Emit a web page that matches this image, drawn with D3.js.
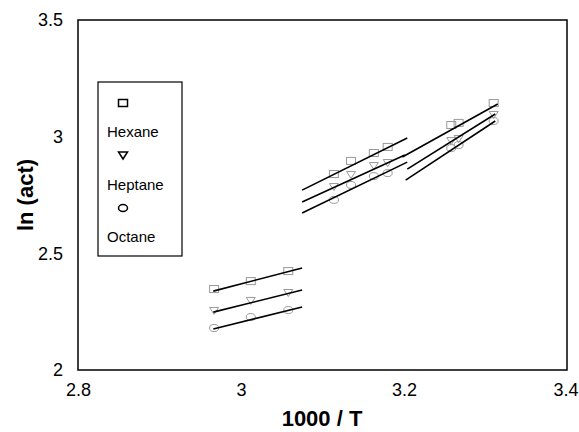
<!DOCTYPE html>
<html lang="en">
	<head>
		<meta charset="utf-8">
		<title>ln(act) vs 1000/T</title>
		<script src="https://d3js.org/d3.v7.min.js"></script>
		<style>
			body{ margin: 0; background: #fff; }
			text{ font-family: 'Liberation Sans', Arial, sans-serif; }
		</style>
	</head>
	<body>
		<script>
			var w = 579;
			var h = 432;

			//series names
			var names = ["Hexane", "Heptane", "Octane"];

			//x values (1000/T) for the measured points
			var xVals = [2.967, 3.012, 3.058, 3.114, 3.135, 3.163, 3.180, 3.258, 3.267, 3.310];

			//ln(act) per solvent, same order as xVals
			var hexane  = [2.347, 2.381, 2.424, 2.840, 2.896, 2.930, 2.956, 3.050, 3.059, 3.144];
			var heptane = [2.253, 2.296, 2.330, 2.784, 2.836, 2.874, 2.887, 2.981, 2.990, 3.093];
			var octane  = [2.180, 2.227, 2.257, 2.729, 2.793, 2.831, 2.844, 2.951, 2.964, 3.067];

			//fitted lines, [x1, y1, x2, y2] for each temperature range
			var hexaneFit  = [[2.966, 2.338, 3.075, 2.437], [3.075, 2.771, 3.204, 2.994], [3.198, 2.913, 3.315, 3.140]];
			var heptaneFit = [[2.966, 2.248, 3.075, 2.343], [3.075, 2.720, 3.201, 2.921], [3.204, 2.861, 3.312, 3.097]];
			var octaneFit  = [[2.966, 2.176, 3.075, 2.270], [3.075, 2.673, 3.204, 2.891], [3.202, 2.814, 3.312, 3.067]];

			//tick labels
			var xTicks = [2.8, 3, 3.2, 3.4];
			var yTicks = [2, 2.5, 3, 3.5];

			var series = [hexane, heptane, octane];
			var fits = [hexaneFit, heptaneFit, octaneFit];
			var shapes = ["square", "triangle", "circle"];

			var pLeft = 78, pRight = 567, pTop = 20, pBottom = 370;

			var xScale = d3.scaleLinear().domain([2.8, 3.4]).range([pLeft, pRight]);
			var yScale = d3.scaleLinear().domain([2, 3.5]).range([pBottom, pTop]);

			var svg = d3.select("body")
						.append("svg")
						.attr("width", w)
						.attr("height", h);

			//draw a marker at px, py
			function marker(g, shape, px, py, color, sw) {
				if (shape == "square") {
					g.append("rect")
						.attr("x", px - 4.5).attr("y", py - 3.5)
						.attr("width", 9).attr("height", 7)
						.attr("fill", "none").attr("stroke", color).attr("stroke-width", sw);
				} else if (shape == "triangle") {
					g.append("path")
						.attr("d", "M" + (px - 4.5) + "," + (py - 3.5) + "L" + (px + 4.5) + "," + (py - 3.5) + "L" + px + "," + (py + 3.5) + "Z")
						.attr("fill", "none").attr("stroke", color).attr("stroke-width", sw);
				} else {
					g.append("ellipse")
						.attr("cx", px).attr("cy", py)
						.attr("rx", 4.5).attr("ry", 3.5)
						.attr("fill", "none").attr("stroke", color).attr("stroke-width", sw);
				}
			}

			//markers
			var pts = svg.append("g");
			series.forEach(function(s, i) {
				s.forEach(function(v, j) {
					marker(pts, shapes[i], xScale(xVals[j]), yScale(v), "#999", 1);
				});
			});

			//fit lines
			var lines = svg.append("g");
			fits.forEach(function(f) {
				lines.selectAll(null)
					.data(f)
					.enter()
					.append("line")
					.attr("x1", function(d) { return xScale(d[0]); })
					.attr("y1", function(d) { return yScale(d[1]); })
					.attr("x2", function(d) { return xScale(d[2]); })
					.attr("y2", function(d) { return yScale(d[3]); })
					.attr("stroke", "#000")
					.attr("stroke-width", 1.6);
			});

			//plot frame
			svg.append("rect")
				.attr("x", pLeft).attr("y", pTop)
				.attr("width", pRight - pLeft).attr("height", pBottom - pTop)
				.attr("fill", "none").attr("stroke", "#000").attr("stroke-width", 1.5);

			//axes, labels only
			var xAxis = d3.axisBottom(xScale).tickValues(xTicks).tickSize(0).tickPadding(13)
							.tickFormat(function(d) { return d3.format("~g")(d); });
			var yAxis = d3.axisLeft(yScale).tickValues(yTicks).tickSize(0).tickPadding(15)
							.tickFormat(function(d) { return d3.format("~g")(d); });

			var gx = svg.append("g")
				.attr("transform", "translate(0," + pBottom + ")")
				.call(xAxis);
			var gy = svg.append("g")
				.attr("transform", "translate(" + pLeft + ",0)")
				.call(yAxis);
			[gx, gy].forEach(function(g) {
				g.select(".domain").remove();
				g.selectAll("text")
					.attr("font-family", "'Liberation Sans', Arial, sans-serif")
					.attr("font-size", "18px")
					.attr("fill", "#000");
			});
			//keep the last x label inside the window
			gx.selectAll(".tick text").filter(function(d) { return d == 3.4; })
				.attr("text-anchor", "end").attr("x", 11);

			//axis titles
			svg.append("text")
				.attr("x", 322).attr("y", 426)
				.attr("text-anchor", "middle")
				.attr("font-size", "22px").attr("font-weight", "bold")
				.text("1000 / T");
			svg.append("text")
				.attr("transform", "translate(33,195) rotate(-90)")
				.attr("text-anchor", "middle")
				.attr("font-size", "22px").attr("font-weight", "bold")
				.text("ln (act)");

			//legend
			var lg = svg.append("g");
			lg.append("rect")
				.attr("x", 98).attr("y", 82)
				.attr("width", 84).attr("height", 174)
				.attr("fill", "#fff").attr("stroke", "#000").attr("stroke-width", 1.2);
			names.forEach(function(n, i) {
				marker(lg, shapes[i], 123, 103 + i * 52.5, "#000", 1.5);
				lg.append("text")
					.attr("x", 107).attr("y", 137 + i * 52.5)
					.attr("font-size", "15px")
					.text(n);
			});
		</script>
	</body>
</html>
